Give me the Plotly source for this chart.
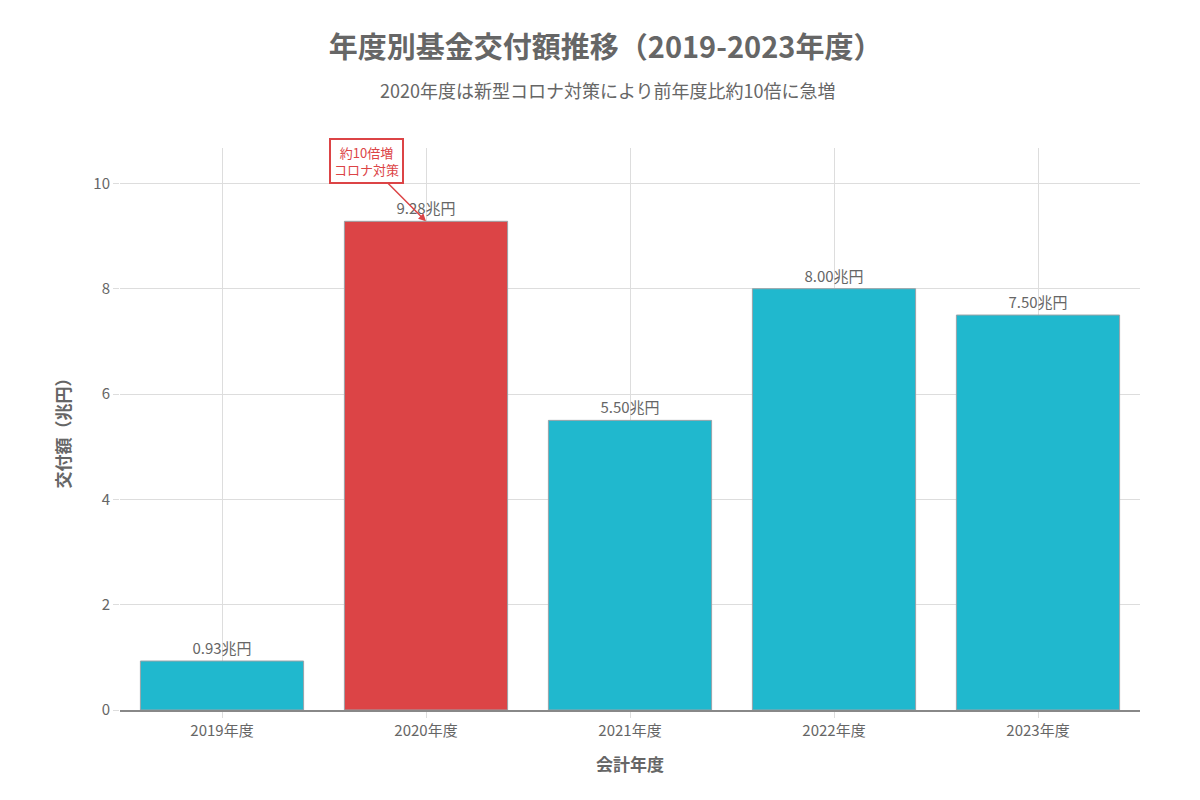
import plotly.graph_objects as go

# 年度別基金交付額（兆円）
years = ["2019年度", "2020年度", "2021年度", "2022年度", "2023年度"]
amounts = [0.93, 9.28, 5.50, 8.00, 7.50]
highlight_year = "2020年度"

TEAL = "#20B8CE"
RED = "#DC4446"
GREY = "#666666"
FONT = "Noto Sans CJK JP"

ML, MR, MT, MB = 112, 68, 140, 98
plot_w = 1200 - ML - MR
plot_h = 800 - MT - MB

colors = [RED if y == highlight_year else TEAL for y in years]
labels = [f"{v:.2f}兆円" for v in amounts]

fig = go.Figure()
fig.add_trace(go.Bar(
    x=years, y=amounts,
    marker=dict(color=colors, line=dict(color="#9aa3a8", width=1)),
    text=labels, textposition="outside",
    textfont=dict(size=15, color=GREY),
    cliponaxis=False,
    showlegend=False,
))

fig.add_annotation(
    x=highlight_year, y=amounts[years.index(highlight_year)],
    text="約10倍増<br>コロナ対策",
    showarrow=True, arrowhead=2, arrowsize=1, arrowwidth=1.5,
    arrowcolor=RED, ax=-60, ay=-60,
    font=dict(size=13, color=RED, family=FONT),
    bordercolor=RED, borderwidth=2, borderpad=3, bgcolor="white",
)

# subtitle, centred on the page about 82px from the top
fig.add_annotation(
    text="2020年度は新型コロナ対策により前年度比約10倍に急増",
    xref="paper", yref="paper",
    x=(600 - ML) / plot_w, y=1 + (MT - 82) / plot_h,
    xanchor="center", yanchor="middle", showarrow=False,
    font=dict(size=18, color=GREY),
)

fig.update_layout(
    width=1200, height=800,
    template="plotly_white",
    font=dict(family=FONT, color=GREY, size=15),
    title=dict(
        text="<b>年度別基金交付額推移（2019-2023年度）</b>",
        x=0.498, xanchor="center", yref="container", y=1 - 40 / 800, yanchor="middle",
        font=dict(size=29, color=GREY),
    ),
    margin=dict(l=ML, r=MR, t=MT, b=MB),
    bargap=0.2,
    plot_bgcolor="white",
)
fig.update_xaxes(
    title=dict(text="<b>会計年度</b>", font=dict(size=17, color=GREY), standoff=20),
    showgrid=True, gridcolor="#dddddd",
    ticks="outside", ticklen=6, tickcolor="#dddddd",
    showline=True, linecolor="#888888", linewidth=1.5,
    tickfont=dict(size=15, color=GREY),
)
fig.update_yaxes(
    title=dict(text="<b>交付額（兆円）</b>", font=dict(size=17, color=GREY), standoff=18),
    range=[0, max(amounts) * 1.15], dtick=2,
    showgrid=True, gridcolor="#dddddd",
    ticks="outside", ticklen=6, tickcolor="#dddddd",
    zeroline=False,
    tickfont=dict(size=15, color=GREY),
)

fig.write_html("out.html")
